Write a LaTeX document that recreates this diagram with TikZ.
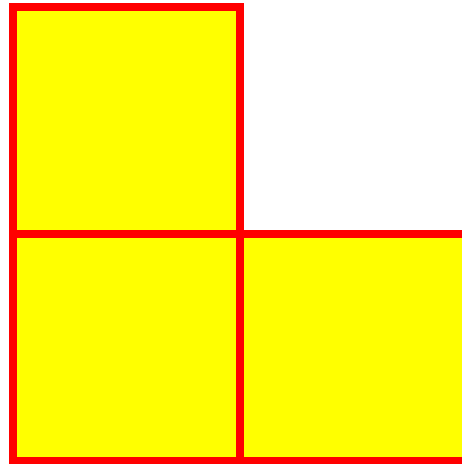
\documentclass[tikz,border=0pt]{standalone}
\usepackage{tikz}
\usetikzlibrary{positioning}
\definecolor{cellfill}{RGB}{255,255,0}
\definecolor{cellline}{RGB}{255,0,0}

\begin{document}
\begin{tikzpicture}[node distance=0pt]
\tikzset{
  cell/.style={draw=cellline,fill=cellfill,line width=8pt,minimum size=227pt,inner sep=0pt,outer sep=0pt}
}
\useasboundingbox (0,0) rectangle (462pt,464pt);
\clip (0,0) rectangle (462pt,464pt);
\node(tl)[cell] at (126.5pt,343.5pt) {};
\node(bl)[cell,below=of tl] {};
\node(br)[cell,right=of bl] {};
\end{tikzpicture}
\end{document}
